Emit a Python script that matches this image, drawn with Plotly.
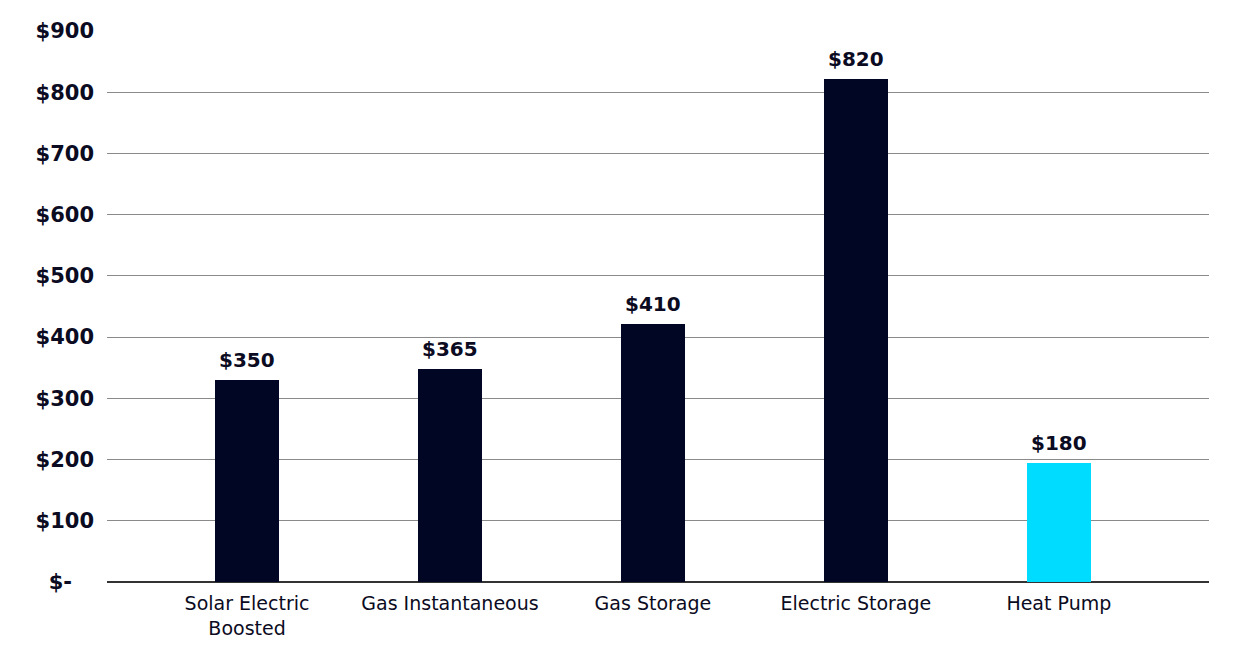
import plotly.graph_objects as go

categories = ["Solar Electric<br>Boosted", "Gas Instantaneous", "Gas Storage", "Electric Storage", "Heat Pump"]
bar_values = [330, 348, 422, 822, 194]
bar_labels = ["$350", "$365", "$410", "$820", "$180"]
bar_colors = ["#000623", "#000623", "#000623", "#000623", "#00DCFF"]
y_tickvals = [0, 100, 200, 300, 400, 500, 600, 700, 800, 900]
y_ticktext = ["$-\u00a0\u00a0\u00a0", "$100", "$200", "$300", "$400", "$500", "$600", "$700", "$800", "$900"]

FONT = "DejaVu Sans"
TXT = "#0b0b22"

x_pos = list(range(len(categories)))

fig = go.Figure(go.Bar(
    x=x_pos,
    y=bar_values,
    width=0.318,
    marker=dict(color=bar_colors, line=dict(width=0)),
    hoverinfo="skip",
))

for xi, yv, lab in zip(x_pos, bar_values, bar_labels):
    fig.add_annotation(
        x=xi, y=yv, text=lab, showarrow=False,
        xanchor="center", yanchor="bottom", yshift=6,
        font=dict(family=FONT, size=20, color=TXT, weight="bold"),
    )

fig.update_layout(
    width=1246, height=653,
    margin=dict(l=107, r=37, t=31, b=71),
    paper_bgcolor="white", plot_bgcolor="white",
    showlegend=False,
    bargap=0,
    xaxis=dict(
        range=[-0.69, 4.74],
        tickvals=x_pos,
        ticktext=categories,
        tickfont=dict(family=FONT, size=19, color=TXT),
        showgrid=False, zeroline=False, showline=False,
        ticks="", ticklabelstandoff=8,
        fixedrange=True,
    ),
    yaxis=dict(
        range=[0, 900],
        tickvals=y_tickvals,
        ticktext=y_ticktext,
        tickfont=dict(family=FONT, size=21, color=TXT, weight="bold"),
        showgrid=True, gridcolor="#8a8a8a", gridwidth=1,
        zeroline=True, zerolinecolor="#333333", zerolinewidth=1.5,
        showline=False, ticks="", ticklabelstandoff=12,
        fixedrange=True,
    ),
)

fig.write_html("out.html")
